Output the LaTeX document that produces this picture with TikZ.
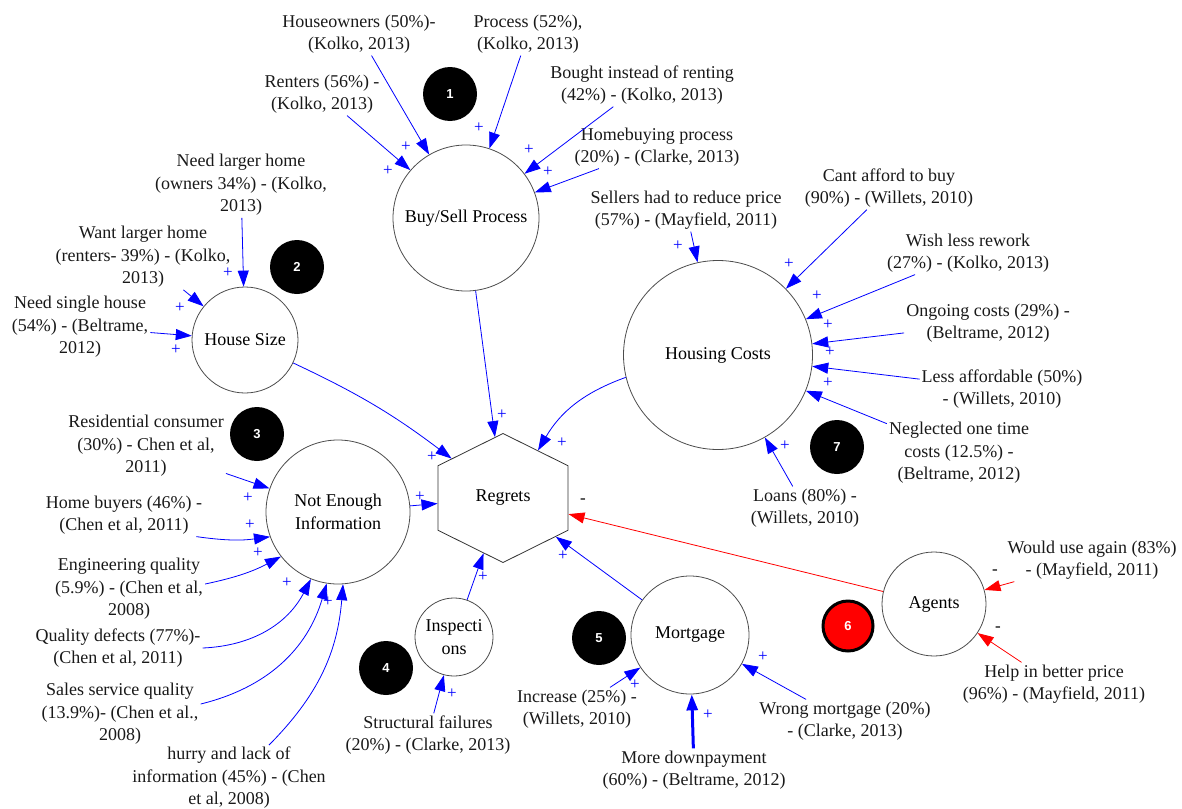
\documentclass[tikz,border=0pt]{standalone}
\usepackage{fontspec}
\setmainfont{Liberation Serif}
\newfontfamily\numfont{Liberation Sans}
\usetikzlibrary{arrows.meta,shapes.geometric}
\begin{document}
\begin{tikzpicture}[x=1pt,y=-1pt,
  font=\fontsize{18}{22.5}\selectfont,
  var/.style={circle,draw=black!70,line width=0.8pt,inner sep=0pt,align=center},
  hexa/.style={regular polygon,regular polygon sides=6,regular polygon rotate=30,minimum size=129pt,inner sep=0pt,draw=black!80,line width=0.8pt,xscale=1.164,transform shape},
  lab/.style={align=center,inner sep=2pt,text=black!90},
  num/.style={circle,fill=black,minimum size=54pt,inner sep=0pt,text=white,font=\numfont\bfseries\fontsize{13}{13}\selectfont},
  pl/.style={text=blue,inner sep=0pt,font=\fontsize{17}{17}\selectfont},
  mi/.style={inner sep=0pt,font=\fontsize{17}{17}\selectfont},
  arr/.style={draw=blue,line width=0.8pt,-{Triangle[length=16pt,width=11pt]}},
  thickarr/.style={draw=blue,line width=3pt,-{Triangle[length=16pt,width=11pt]}},
  rarr/.style={draw=red,line width=0.8pt,-{Triangle[length=16pt,width=11pt]}},
]
\useasboundingbox (0,0) rectangle (1182,808);

% main variables
\node[var,minimum size=146pt] (bsp) at (466,218) {Buy/Sell Process};
\node[var,minimum size=106pt] (hs) at (245,340) {House Size};
\node[var,minimum size=189pt] (hc) at (718,355) {Housing Costs};
\node[var,minimum size=144pt] (nee) at (338,512) {Not Enough\\Information};
\node[var,minimum size=78pt] (insp) at (454,637) {Inspecti\\ons};
\node[var,minimum size=118pt] (mort) at (690,635) {Mortgage};
\node[var,minimum size=104pt] (ag) at (934,604) {Agents};
\node[hexa] (reg) at (503,498) {};
\node (regt) at (reg.center) {Regrets};

% numbered markers
\node[num] (n1) at (450,94) {1};
\node[num] (n2) at (297,267) {2};
\node[num] (n3) at (257,434) {3};
\node[num] (n4) at (386,668) {4};
\node[num] (n5) at (599,638) {5};
\node[num,fill=red,draw=black,line width=3pt,minimum size=50pt] (n6) at (848,626) {6};
\node[num] (n7) at (837,447) {7};

% labels: Buy/Sell
\node[lab] (ho) at (359,34) {Houseowners (50\%)-\\(Kolko, 2013)};
\node[lab] (pr) at (528,34) {Process (52\%),\\(Kolko, 2013)};
\node[lab] (re) at (322,94) {Renters (56\%) -\\(Kolko, 2013)};
\node[lab] (bo) at (642,85) {Bought instead of renting\\(42\%) - (Kolko, 2013)};
\node[lab] (hp) at (657,147) {Homebuying process\\(20\%) - (Clarke, 2013)};
% House size
\node[lab] (nl) at (241,185) {Need larger home\\(owners 34\%) - (Kolko,\\2013)};
\node[lab] (wl) at (143,257) {Want larger home\\(renters- 39\%) - (Kolko,\\2013)};
\node[lab] (ns) at (80,327) {Need single house\\(54\%) - (Beltrame,\\2012)};
% Housing costs
\node[lab] (sr) at (686,210) {Sellers had to reduce price\\(57\%) - (Mayfield, 2011)};
\node[lab] (ca) at (889,188) {Cant afford to buy\\(90\%) - (Willets, 2010)};
\node[lab] (wr) at (968,253) {Wish less rework\\(27\%) - (Kolko, 2013)};
\node[lab] (oc) at (988,323) {Ongoing costs (29\%) -\\(Beltrame, 2012)};
\node[lab] (la) at (1002,389) {Less affordable (50\%)\\- (Willets, 2010)};
\node[lab] (no) at (959,453) {Neglected one time\\costs (12.5\%) -\\(Beltrame, 2012)};
\node[lab] (lo) at (805,508) {Loans (80\%) -\\(Willets, 2010)};
% Not enough information
\node[lab] (rc) at (146,446) {Residential consumer\\(30\%) - Chen et al,\\2011)};
\node[lab] (hb) at (124,515) {Home buyers (46\%) -\\(Chen et al, 2011)};
\node[lab] (eq) at (129,589) {Engineering quality\\(5.9\%) - (Chen et al,\\2008)};
\node[lab] (qd) at (118,648) {Quality defects (77\%)-\\(Chen et al, 2011)};
\node[lab] (ss) at (120,714) {Sales service quality\\(13.9\%)- (Chen et al.,\\2008)};
\node[lab] (hu) at (229,778) {hurry and lack of\\information (45\%) - (Chen\\et al, 2008)};
% Inspections, Mortgage, Agents
\node[lab] (st) at (428,735) {Structural failures\\(20\%) - (Clarke, 2013)};
\node[lab] (in) at (577,709) {Increase (25\%) -\\(Willets, 2010)};
\node[lab] (md) at (694,770) {More downpayment\\(60\%) - (Beltrame, 2012)};
\node[lab] (wm) at (845,721) {Wrong mortgage (20\%)\\- (Clarke, 2013)};
\node[lab] (wu) at (1092,560) {Would use again (83\%)\\- (Mayfield, 2011)};
\node[lab] (hl) at (1054,684) {Help in better price\\(96\%) - (Mayfield, 2011)};

% connectors into Buy/Sell
\draw[arr] (ho) -- (bsp);
\draw[arr] (pr) -- (bsp);
\draw[arr] (re) -- (bsp);
\draw[arr] (bo) -- (bsp);
\draw[arr] (hp) -- (bsp);
% into House Size
\draw[arr] (nl) -- (hs);
\draw[arr] (wl) -- (hs);
\draw[arr] (ns) -- (hs);
% into Housing Costs
\draw[arr] (sr) -- (hc);
\draw[arr] (ca) -- (hc);
\draw[arr] (wr) -- (hc);
\draw[arr] (oc) -- (hc);
\draw[arr] (la) -- (hc);
\draw[arr] (no) -- (hc);
\draw[arr] (lo) -- (hc);
% into Not Enough Information
\draw[arr] (rc) -- (nee);
\draw[arr] ([xshift=-8pt]hb.south east) to[bend right=8] (nee.200);
\draw[arr] ([yshift=5pt]eq.east) to[bend right=8] (nee.218);
\draw[arr] (qd.east) to[bend right=30] (nee.248);
\draw[arr] ([yshift=10pt]ss.east) to[bend right=30] (nee.261);
\draw[arr] ([xshift=40pt]hu.north) to[bend right=20] (nee.274);
% into Inspections, Mortgage
\draw[arr] (st) -- (insp);
\draw[arr] (in) -- (mort);
\draw[thickarr] (md) -- (mort);
\draw[arr] (wm) -- (mort);
% into Agents
\draw[rarr] (wu) -- (ag);
\draw[rarr] (hl) -- (ag);
% into Regrets
\draw[arr] (bsp) -- (reg);
\draw[arr] (hs) to[bend left=6] (reg);
\draw[arr] (hc) to[bend right=20] (reg);
\draw[arr] (nee) -- (reg);
\draw[arr] (insp) -- (reg);
\draw[arr] (mort) -- (reg);
\draw[rarr] (ag) -- (reg);

% polarity signs
\node[pl] (p1) at (406,147) {+};
\node[pl] (p2) at (388,171) {+};
\node[pl] (p3) at (479,128) {+};
\node[pl] (p4) at (529,150) {+};
\node[pl] (p5) at (548,172) {+};
\node[pl] (p6) at (228,273) {+};
\node[pl] (p7) at (180,308) {+};
\node[pl] (p8) at (176,350) {+};
\node[pl] (p9) at (678,246) {+};
\node[pl] (p10) at (789,264) {+};
\node[pl] (p11) at (817,296) {+};
\node[pl] (p12) at (828,325) {+};
\node[pl] (p13) at (830,352) {+};
\node[pl] (p14) at (828,383) {+};
\node[pl] (p15) at (785,446) {+};
\node[pl] (p16) at (248,498) {+};
\node[pl] (p17) at (250,525) {+};
\node[pl] (p18) at (258,553) {+};
\node[pl] (p19) at (287,583) {+};
\node[pl] (p20) at (328,602) {+};
\node[pl] (p21) at (502,415) {+};
\node[pl] (p22) at (432,457) {+};
\node[pl] (p23) at (562,443) {+};
\node[pl] (p24) at (420,497) {+};
\node[pl] (p25) at (483,577) {+};
\node[pl] (p26) at (563,556) {+};
\node[pl] (p27) at (452,694) {+};
\node[pl] (p28) at (635,685) {+};
\node[pl] (p29) at (708,715) {+};
\node[pl] (p30) at (763,657) {+};
\node[mi] (m1) at (583,501) {-};
\node[mi] (m2) at (995,572) {-};
\node[mi] (m3) at (998,629) {-};
\end{tikzpicture}
\end{document}
